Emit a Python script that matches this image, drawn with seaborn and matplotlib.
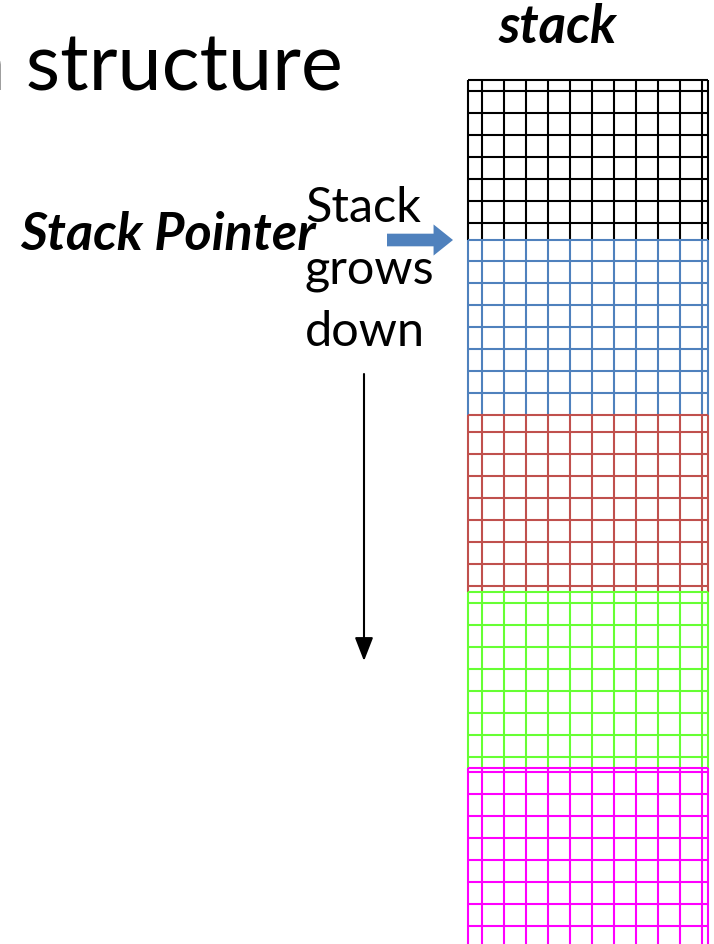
import matplotlib
matplotlib.use("Agg")
import matplotlib.pyplot as plt
import seaborn as sns
import numpy as np

# ---- data ----
block_names = ["frame0", "frame1", "frame2", "frame3", "frame4"]
block_colors = ["#000000", "#4F81BD", "#C0504D", "#66FF33", "#FF00FF"]
title_text = "data structure"
stack_label = "stack"
pointer_label = "Stack Pointer"
grow_lines = ["Stack", "grows", "down"]

# ---- layout (pixels) ----
W, H = 714, 945
block_tops = [81, 241, 416, 593, 769]
first_offsets = [11, 21, 17, 11, 4]
row_step = 22
x_left, x_right = 468, 708
col_first, n_cols = 482, 11

sns.set_style("white")
plt.rcParams['font.family'] = ['Lato', 'DejaVu Sans']

fig = plt.figure(figsize=(W / 100, H / 100), dpi=100)
ax = fig.add_axes([0, 0, 1, 1])
ax.set_xlim(0, W)
ax.set_ylim(H, 0)
ax.axis("off")

lw = 1.5
bottoms = block_tops[1:] + [H + 2]
col_x = [x_left] + [col_first + i * row_step for i in range(n_cols)] + [x_right]
for top, bot, off, color in zip(block_tops, bottoms, first_offsets, block_colors):
    ys = [top]
    y = top + off
    while y < bot - 3:
        ys.append(y)
        y += row_step
    ax.hlines(ys, x_left, x_right, colors=color, lw=lw, zorder=2)
    ax.vlines(col_x, top, bot, colors=color, lw=lw, zorder=1)

# title fragment
ax.text(343, 90, title_text, ha="right", va="baseline", fontsize=57, color="black")
# stack label
ax.text(558, 43, stack_label, ha="center", va="baseline", fontsize=38,
        fontweight="bold", fontstyle="italic", color="black")
# stack pointer
ax.text(20, 250, pointer_label, ha="left", va="baseline", fontsize=37.5,
        fontweight="bold", fontstyle="italic", color="black")
# stack grows down
for i, t in enumerate(grow_lines):
    ax.text(305, 222 + i * 62, t, ha="left", va="baseline", fontsize=35, color="black")

# blue arrow
ax.annotate("", xy=(453, 241), xytext=(387, 241),
            arrowprops=dict(arrowstyle="simple,head_length=1.0,head_width=1.6,tail_width=0.65",
                            color="#4F81BD", lw=0, shrinkA=0, shrinkB=0, mutation_scale=14))
# black arrow
ax.annotate("", xy=(364, 662), xytext=(364, 375),
            arrowprops=dict(arrowstyle="-|>,head_length=0.9,head_width=0.35",
                            color="black", lw=1.5, shrinkA=0, shrinkB=0, mutation_scale=16))

fig.savefig("out.png", dpi=100)
